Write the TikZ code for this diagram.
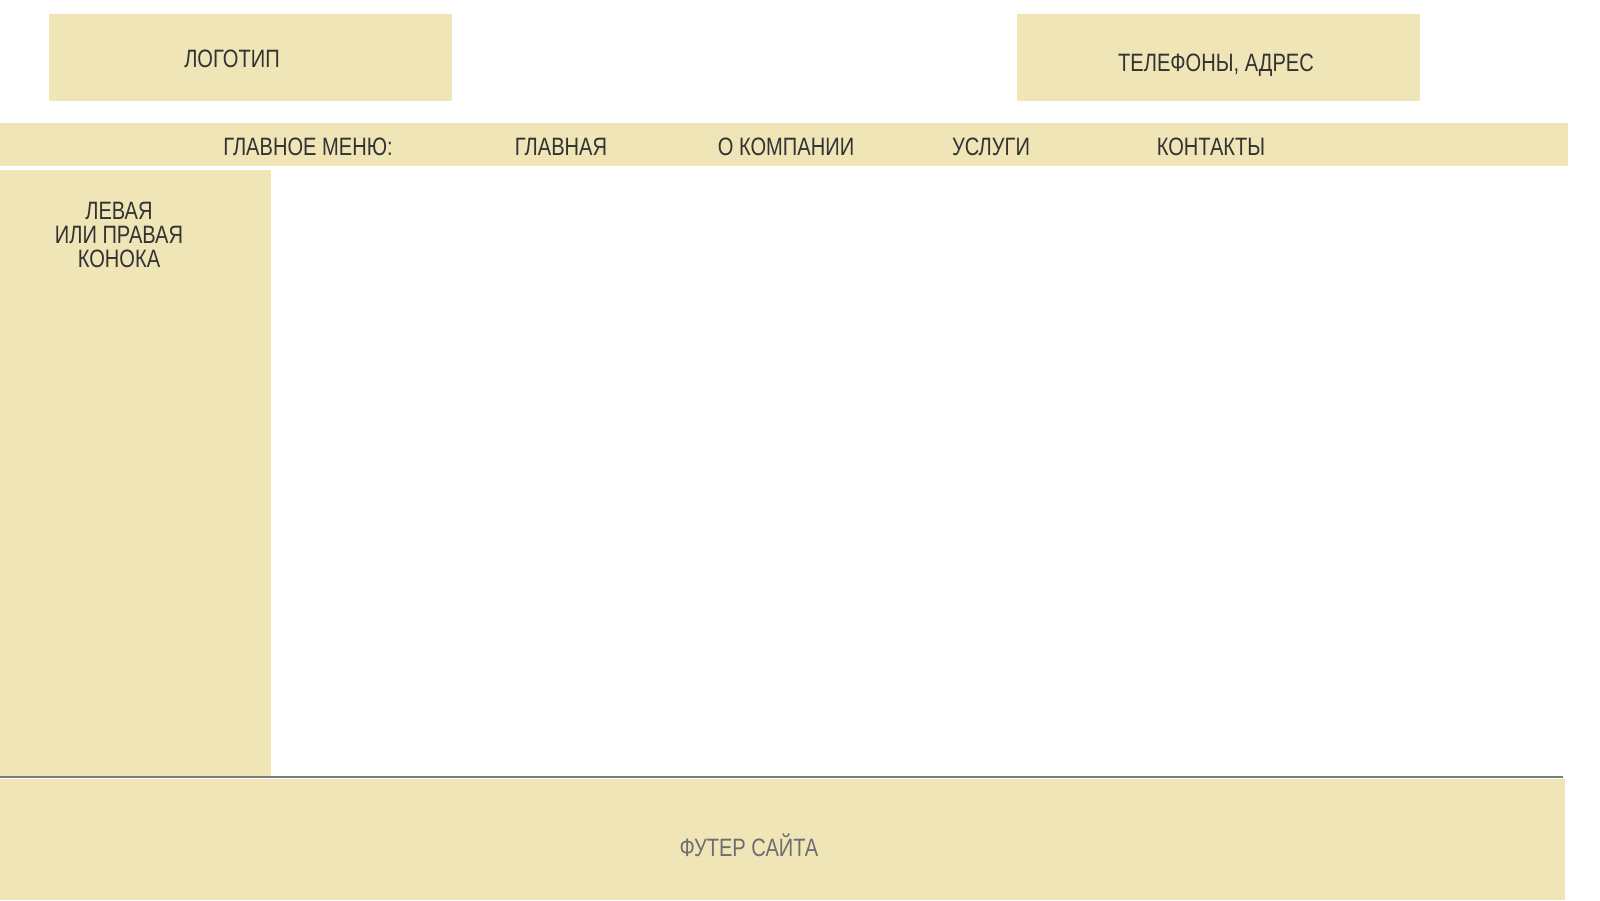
\documentclass[tikz,border=0pt]{standalone}
\usepackage{fontspec}
\setmainfont{Liberation Sans}[FakeStretch=0.8]
\usepackage{tikz}
\usetikzlibrary{positioning}

\definecolor{beige}{HTML}{F0E5B7}
\definecolor{ink}{HTML}{333333}
\definecolor{greyink}{HTML}{6E6E6E}

\begin{document}
\begin{tikzpicture}[x=0.02cm, y=-0.02cm,
    block/.style={rectangle, fill=beige, inner sep=0pt},
    label/.style={text=ink, font=\fontsize{14.3}{13.6}\selectfont, inner sep=0pt, align=center}]

    \useasboundingbox (0,0) rectangle (1600,900);

    % header
    \node (logo) [block, minimum width=8.06cm, minimum height=1.74cm] at (250.5,57.5) {};
    \node (logotxt) [label] at (232,59) {ЛОГОТИП};
    \node (phones) [block, minimum width=8.06cm, minimum height=1.74cm] at (1218.5,57.5) {};
    \node (phonestxt) [label] at (1216,65) {ТЕЛЕФОНЫ, АДРЕС};

    % menu
    \node (menu) [block, minimum width=31.36cm, minimum height=0.86cm] at (784,144.5) {};
    \node (m0) [label] at (308,147) {ГЛАВНОЕ МЕНЮ:};
    \node (m1) [label] at (561,147) {ГЛАВНАЯ};
    \node (m2) [label] at (786,147) {О КОМПАНИИ};
    \node (m3) [label] at (991,147) {УСЛУГИ};
    \node (m4) [label] at (1211,147) {КОНТАКТЫ};

    % column
    \node (side) [block, minimum width=5.42cm, minimum height=12.14cm] at (135.5,473.5) {};
    \node (sidetxt) [label] at (119,235) {ЛЕВАЯ\\ИЛИ ПРАВАЯ\\КОНОКА};

    % footer
    \node (footer) [block, minimum width=31.3cm, minimum height=2.42cm] at (782.5,839.5) {};
    \node (footertxt) [label, text=greyink] at (749,845) {ФУТЕР САЙТА};
    \coordinate (l1) at (0,777);
    \coordinate (l2) at (1563,777);
    \draw[line width=1.2pt, draw=greyink!90] (l1) -- (l2);

\end{tikzpicture}
\end{document}
